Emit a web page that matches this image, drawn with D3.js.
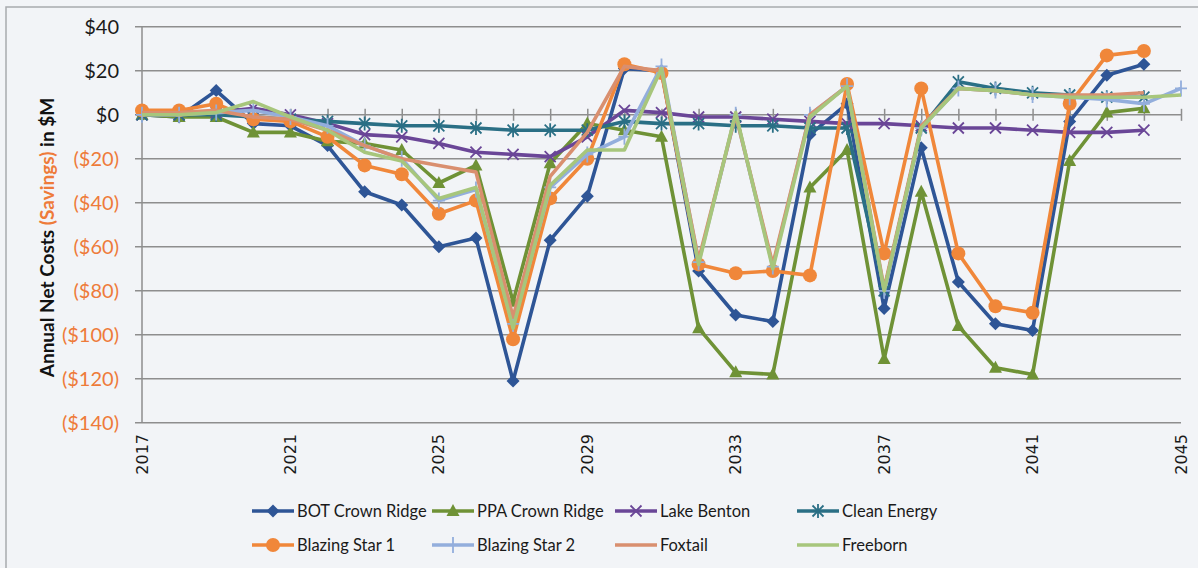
<!DOCTYPE html>
<html><head><meta charset="utf-8">
<script src="https://cdn.jsdelivr.net/npm/d3@7"></script>
<style>
html,body{margin:0;padding:0;background:#F2F4F7;}
svg{display:block;}
</style></head>
<body>
<svg id="chart" width="1198" height="568"></svg>
<script>
const years = d3.range(2017, 2046);
const seriesNames = ["BOT Crown Ridge","PPA Crown Ridge","Lake Benton","Clean Energy","Blazing Star 1","Blazing Star 2","Foxtail","Freeborn"];
const botCrownRidge = [0,-1,11,-4,-5,-14,-35,-41,-60,-56,-121,-57,-37,21,20,-71,-91,-94,-9,5,-88,-15,-76,-95,-98,-3,18,23,null];
const ppaCrownRidge = [0,-1,-1,-8,-8,-12,-13,-16,-31,-23,-85,-22,-4,-7,-10,-97,-117,-118,-33,-16,-111,-35,-96,-115,-118,-21,1,3,null];
const lakeBenton = [0,0,1,3,0,-4,-9,-10,-13,-17,-18,-19,-10,2,1,-1,-1,-2,-3,-4,-4,-5,-6,-6,-7,-8,-8,-7,null];
const cleanEnergy = [0,0,0,-1,-2,-3,-4,-5,-5,-6,-7,-7,-7,-3,-4,-4,-5,-5,-6,-6,-80,-6,15,12,10,9,8,8,null];
const blazingStar1 = [2,2,5,-2,-3,-10,-23,-27,-45,-39,-102,-38,-20,23,19,-68,-72,-71,-73,14,-63,12,-63,-87,-90,5,27,29,null];
const blazingStar2 = [0,0,1,2,-1,-5,-14,-20,-39,-34,-95,-33,-18,-10,22,-67,0,-69,0,13,-80,-6,12,11,9,8,7,5,12];
const foxtail = [1,1,2,-1,-2,-7,-14,-20,-23,-26,-92,-28,-8,22,20,-66,0,-68,0,13,-79,-5,12,11,9,9,9,10,null];
const freeborn = [0,0,1,6,-1,-7,-17,-21,-38,-33,-97,-32,-16,-16,21,-68,1,-70,-1,13,-80,-6,12,11,9,8,8,8,9];
const seriesValues = [botCrownRidge,ppaCrownRidge,lakeBenton,cleanEnergy,blazingStar1,blazingStar2,foxtail,freeborn];
const yTicks = [40,20,0,-20,-40,-60,-80,-100,-120,-140];
const xLabelYears = [2017,2021,2025,2029,2033,2037,2041,2045];

const colors = ["#2E5596","#6F9236","#6A4697","#2A6F85","#F0873A","#93AEDC","#D98F6F","#A7C67C"];
const markers = ["diamond","triangle","x","asterisk","circle","plus",null,null];

const svg = d3.select("#chart");
const W = 1198, H = 568;
svg.append("rect").attr("width",W).attr("height",H).attr("fill","#F2F4F7");
// chart border
svg.append("path").attr("d","M6,568 L6,7 L1198,7").attr("fill","none").attr("stroke","#A8AAAE").attr("stroke-width",1.5);

const x = d3.scaleLinear().domain([2017,2045]).range([142,1181]);
const y = d3.scaleLinear().domain([-140,40]).range([422.8,26.8]);

// gridlines
const g = svg.append("g");
g.selectAll("line.grid").data(yTicks).join("line")
  .attr("x1",135).attr("x2",1181)
  .attr("y1",d=>y(d)).attr("y2",d=>y(d))
  .attr("stroke","#8E8E8E").attr("stroke-width",1.5);
// y axis line
g.append("line").attr("x1",142).attr("x2",142).attr("y1",y(40)).attr("y2",y(-140))
  .attr("stroke","#8E8E8E").attr("stroke-width",1.5);
// x axis at zero with cross ticks
const xAxis = d3.axisBottom(x).tickValues(years).tickSize(0).tickFormat("");
const xa = svg.append("g").attr("transform",`translate(0,${y(0)})`).call(xAxis);
xa.select(".domain").remove();
xa.selectAll(".tick").append("line").attr("y1",-6).attr("y2",6).attr("stroke","#8E8E8E").attr("stroke-width",1.5);

// y tick labels
const fmt = v => v >= 0 ? "$" + v : "($" + (-v) + ")";
svg.append("g").selectAll("text").data(yTicks).join("text")
  .attr("x",119).attr("y",d=>y(d)).attr("dy","0.35em")
  .attr("text-anchor","end")
  .attr("font-family","Lato, 'Open Sans', sans-serif").attr("font-size",20)
  .attr("fill",d=>d<0?"#EE7B3A":"#1a1a1a")
  .text(fmt);

// x labels
svg.append("g").selectAll("text").data(xLabelYears).join("text")
  .attr("transform",d=>`translate(${x(d)},434) rotate(-90)`)
  .attr("text-anchor","end").attr("dominant-baseline","central")
  .attr("font-family","'DejaVu Sans', Verdana, sans-serif").attr("font-size",16)
  .attr("fill","#1a1a1a")
  .text(d=>d);

// y title
const yt = svg.append("text")
  .attr("transform","translate(46,237.5) rotate(-90)")
  .attr("text-anchor","middle").attr("dominant-baseline","central")
  .attr("font-family","Lato, sans-serif").attr("font-size",19).attr("font-weight","bold")
  .attr("fill","#111");
yt.append("tspan").text("Annual Net Costs ");
yt.append("tspan").attr("fill","#EE7B3A").text("(Savings)");
yt.append("tspan").text(" in $M");

function drawMarker(sel, type, color){
  if(type==="diamond") sel.append("path").attr("d","M0,-6.5L6.5,0L0,6.5L-6.5,0Z").attr("fill",color);
  else if(type==="triangle") sel.append("path").attr("d","M0,-7L6.5,5L-6.5,5Z").attr("fill",color);
  else if(type==="circle") sel.append("circle").attr("r",7).attr("fill",color);
  else if(type==="x") sel.append("path").attr("d","M-5.5,-5.5L5.5,5.5M-5.5,5.5L5.5,-5.5").attr("stroke",color).attr("stroke-width",1.8);
  else if(type==="asterisk") sel.append("path").attr("d","M-5.5,-5.5L5.5,5.5M-5.5,5.5L5.5,-5.5M0,-7L0,7").attr("stroke",color).attr("stroke-width",1.8);
  else if(type==="plus") sel.append("path").attr("d","M0,-8L0,8M-6,0L6,0").attr("stroke",color).attr("stroke-width",1.8);
}

const line = d3.line().defined(d=>d.v!==null).x(d=>x(d.year)).y(d=>y(d.v));
const plot = svg.append("g");
seriesValues.forEach((vals,i)=>{
  const data = years.map((yr,j)=>({year:yr,v:vals[j]}));
  const sg = plot.append("g");
  sg.append("path").datum(data).attr("d",line).attr("fill","none")
    .attr("stroke",colors[i]).attr("stroke-width",3.6).attr("stroke-linejoin","round");
  if(markers[i]){
    sg.selectAll("g.m").data(data.filter(d=>d.v!==null)).join("g")
      .attr("transform",d=>`translate(${x(d.year)},${y(d.v)})`)
      .each(function(){ drawMarker(d3.select(this), markers[i], colors[i]); });
  }
});

// legend
const legCols = [252,432,615,797];
const legRows = [511,545];
const leg = svg.append("g");
seriesNames.forEach((name,i)=>{
  const lx = legCols[i%4], ly = legRows[Math.floor(i/4)];
  const lg = leg.append("g");
  lg.append("line").attr("x1",lx).attr("x2",lx+42).attr("y1",ly).attr("y2",ly)
    .attr("stroke",colors[i]).attr("stroke-width",3.6);
  if(markers[i]){
    const mg = lg.append("g").attr("transform",`translate(${lx+21},${ly})`);
    drawMarker(mg, markers[i], colors[i]);
  }
  lg.append("text").attr("x",lx+45).attr("y",ly).attr("dy","0.35em")
    .attr("font-family","Lato, sans-serif").attr("font-size",16.5).attr("fill","#1a1a1a")
    .text(name);
});
</script>
</body></html>
